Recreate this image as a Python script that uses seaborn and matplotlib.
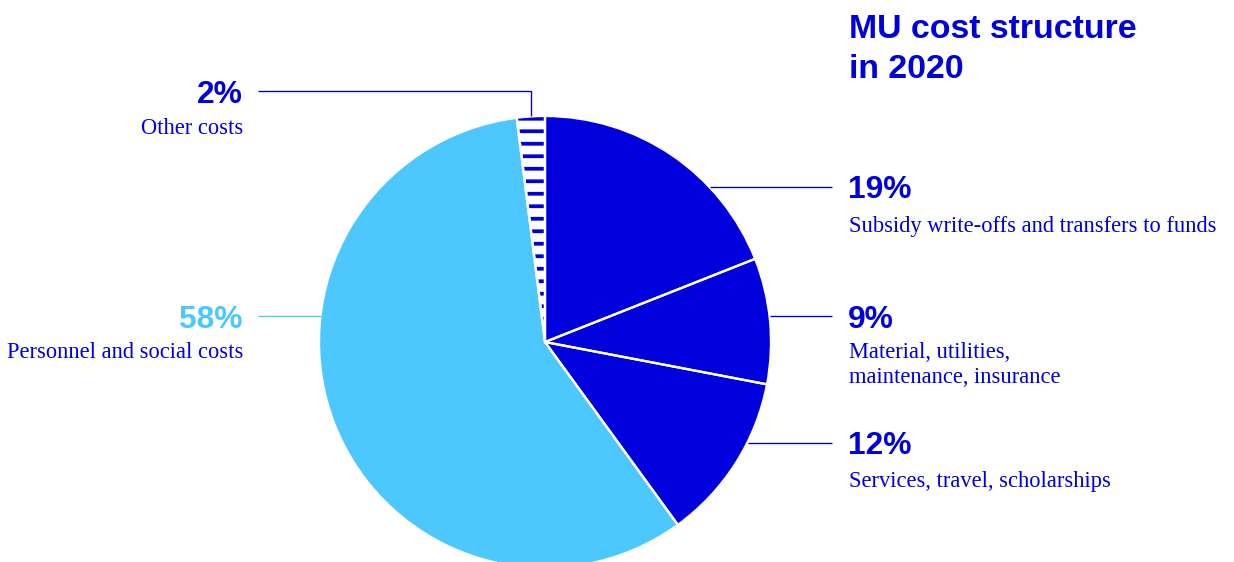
import matplotlib
matplotlib.use("Agg")
import matplotlib.pyplot as plt
import numpy as np
import seaborn as sns

# Cost shares (percent), clockwise from 12 o'clock
categories = [
    "Subsidy write-offs and transfers to funds",
    "Material, utilities,\nmaintenance, insurance",
    "Services, travel, scholarships",
    "Personnel and social costs",
    "Other costs",
]
shares = [19, 9, 12, 58, 2]
pct_labels = ["19%", "9%", "12%", "58%", "2%"]

DARK = "#0000DC"
LIGHT = "#4CC8FF"
colors = [DARK, DARK, DARK, LIGHT, "white"]
hatches = [None, None, None, None, "-"]

sns.set_theme(style="white")
plt.rcParams["hatch.linewidth"] = 3.6

W, H, DPI = 1234, 562, 75
fig = plt.figure(figsize=(W / DPI, H / DPI), dpi=DPI)
ax = fig.add_axes([0, 0, 1, 1])

cx, cy, R = 545, H - 342, 226

wedges, _ = ax.pie(shares, colors=colors, startangle=90, counterclock=False,
                   center=(cx, cy), radius=R, frame=True,
                   wedgeprops=dict(linewidth=0, edgecolor=DARK))
for w, h in zip(wedges, hatches):
    if h:
        w.set_hatch(h)
        w.set_edgecolor(DARK)
# white separators between slices
ax.pie(shares, colors=["none"] * len(shares), startangle=90, counterclock=False,
       center=(cx, cy), radius=R, frame=True,
       wedgeprops=dict(linewidth=2.2, edgecolor="white", fill=False))
ax.set_xlim(0, W)
ax.set_ylim(0, H)
ax.set_aspect("equal")
ax.axis("off")


def edge_x(y, side):
    dy = y - cy
    return cx + side * np.sqrt(R ** 2 - dy ** 2)


pct_font = dict(family=["Liberation Sans", "DejaVu Sans"], fontweight="bold", fontsize=30.5)
lab_font = dict(family=["Liberation Serif", "DejaVu Serif"], fontsize=21.6, color=DARK)
LW = 1.3

# right-hand labels: (slice index, leader y, percent baseline, label baseline)
right = [(0, 187, 198, 232), (1, 316, 328, 358), (2, 443, 454, 487)]
for i, yl, yb, ylab in right:
    y = H - yl
    ax.plot([edge_x(y, 1) + 1, 832], [y, y], color=DARK, lw=LW, solid_capstyle="butt")
    ax.text(848, H - yb, pct_labels[i], color=DARK, ha="left", va="baseline", **pct_font)
    for k, line in enumerate(categories[i].split("\n")):
        ax.text(849, H - ylab - 25 * k, line, ha="left", va="baseline", **lab_font)

# Personnel (left)
y = H - 316
ax.plot([258, edge_x(y, -1)], [y, y], color=LIGHT, lw=LW, solid_capstyle="butt")
ax.text(243, H - 328, pct_labels[3], color=LIGHT, ha="right", va="baseline", **pct_font)
ax.text(243, H - 358, categories[3], ha="right", va="baseline", **lab_font)

# Other costs (left, elbow leader down to the rim)
y = H - 91
top_x = 531
top_y = cy + np.sqrt(R ** 2 - (top_x - cx) ** 2)
ax.plot([258, top_x, top_x], [y, y, top_y], color=DARK, lw=LW, solid_capstyle="butt")
ax.text(243, H - 103, pct_labels[4], color=DARK, ha="right", va="baseline", **pct_font)
ax.text(243, H - 134, categories[4], ha="right", va="baseline", **lab_font)

# title
title_font = dict(family=["Liberation Sans", "DejaVu Sans"], fontweight="bold", fontsize=32.5, color=DARK)
ax.text(849, H - 38, "MU cost structure", ha="left", va="baseline", **title_font)
ax.text(849, H - 78, "in 2020", ha="left", va="baseline", **title_font)

fig.savefig("out.png", dpi=DPI)
